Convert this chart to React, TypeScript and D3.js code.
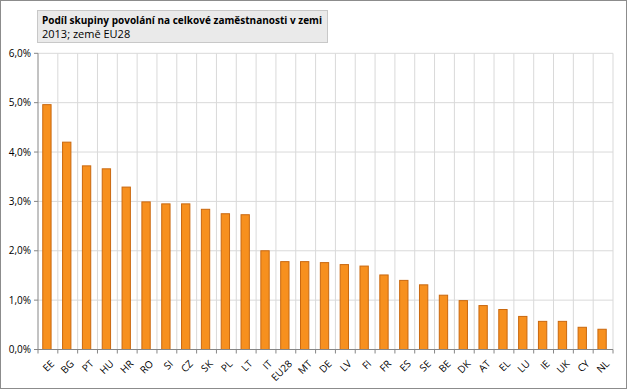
import React from "react";
import * as d3 from "d3";

const categories = ["EE","BG","PT","HU","HR","RO","SI","CZ","SK","PL","LT","IT","EU28","MT","DE","LV","FI","FR","ES","SE","BE","DK","AT","EL","LU","IE","UK","CY","NL"];
const values = [4.96,4.20,3.72,3.66,3.29,2.99,2.95,2.95,2.84,2.75,2.73,2.00,1.78,1.78,1.76,1.72,1.69,1.51,1.40,1.31,1.10,0.99,0.89,0.81,0.67,0.57,0.57,0.45,0.41];
const yTicks = [0,1,2,3,4,5,6];
const titleLine1 = "Podíl skupiny povolání na celkové zaměstnanosti v zemi";
const titleLine2 = "2013; země EU28";

export default function App() {
  const W = 627, H = 389;
  const left = 38, right = 613, top = 53.3, bottom = 349.5;
  const x = d3.scaleBand<string>().domain(categories).range([left, right]).paddingInner(0).paddingOuter(0);
  const y = d3.scaleLinear().domain([0, 6]).range([bottom, top]);
  const bw = x.bandwidth();
  const barW = bw * 0.42;
  const fmt = (v: number) => v.toFixed(1).replace(".", ",") + "%";
  const font = "'Open Sans', 'Noto Sans', sans-serif";
  return (
    <svg width={W} height={H} style={{ position: "absolute", left: 0, top: 0, background: "#fff" }} fontFamily={font}>
      <rect x={0.5} y={0.5} width={W - 1} height={H - 1} fill="#fff" stroke="#8c8c8c" />
      {/* title box */}
      <rect x={37.5} y={10.5} width={290} height={32} fill="#eaeaea" stroke="#c8c8c8" />
      <text x={42} y={24} fontSize={11} fontWeight="bold" fill="#000" textLength={280} lengthAdjust="spacingAndGlyphs">{titleLine1}</text>
      <text x={42} y={38} fontSize={11} fill="#000">{titleLine2}</text>
      {/* horizontal grid */}
      {yTicks.map(t => (
        <line key={"h" + t} x1={left} x2={right} y1={y(t)} y2={y(t)} stroke="#d9d9d9" strokeWidth={1} />
      ))}
      {/* vertical grid */}
      {categories.map((c) => (
        <line key={"v" + c} x1={(x(c) as number) + bw} x2={(x(c) as number) + bw} y1={top} y2={bottom} stroke="#d9d9d9" strokeWidth={1} />
      ))}
      {/* bars */}
      {categories.map((c, i) => {
        const cx = (x(c) as number) + bw / 2 - 1;
        return (
          <rect key={"b" + c} x={cx - barW / 2} y={y(values[i])} width={barW} height={bottom - y(values[i])}
            fill="#f7901e" stroke="#c9680f" strokeWidth={1} />
        );
      })}
      {/* y axis */}
      <line x1={left} x2={left} y1={top} y2={bottom} stroke="#868686" />
      {yTicks.map(t => (
        <g key={"yt" + t}>
          <line x1={left - 4} x2={left} y1={y(t)} y2={y(t)} stroke="#868686" />
          <text x={left - 7} y={y(t) + 3.5} fontSize={10} textAnchor="end" fill="#000">{fmt(t)}</text>
        </g>
      ))}
      {/* x axis */}
      <line x1={left} x2={right} y1={bottom} y2={bottom} stroke="#868686" />
      {categories.map((c) => (
        <line key={"xt" + c} x1={(x(c) as number)} x2={(x(c) as number)} y1={bottom} y2={bottom + 4} stroke="#868686" />
      ))}
      <line x1={right} x2={right} y1={bottom} y2={bottom + 4} stroke="#868686" />
      {categories.map((c) => {
        const cx = (x(c) as number) + bw / 2 + 2;
        const ty = bottom + 10;
        return (
          <text key={"xl" + c} x={cx} y={ty} fontSize={10} textAnchor="end" fill="#000"
            transform={`rotate(-45 ${cx} ${ty})`} dy="0.7em">{c}</text>
        );
      })}
    </svg>
  );
}
